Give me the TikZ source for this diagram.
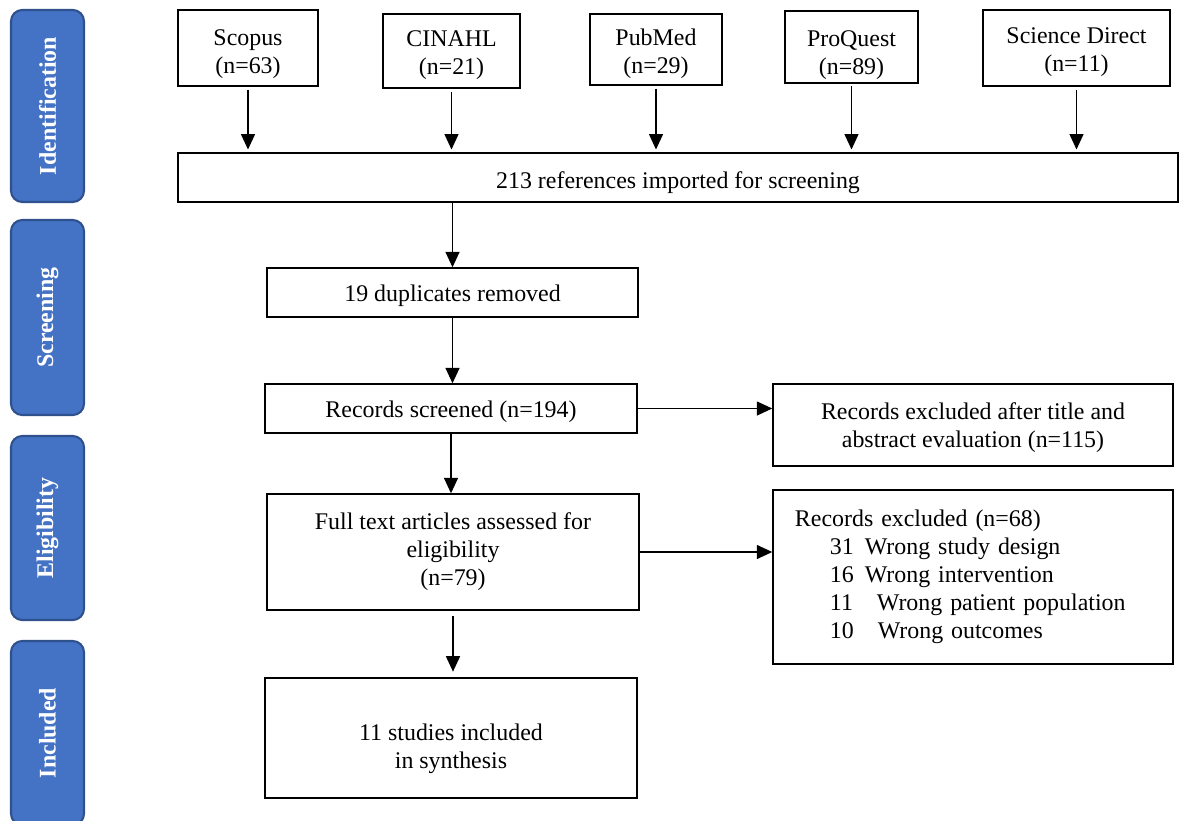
\documentclass[tikz,border=0pt]{standalone}
\usepackage{fontspec}
\setmainfont{Liberation Serif}
\usepackage{tikz}
\usetikzlibrary{arrows.meta, positioning, calc}
\definecolor{barblue}{RGB}{68,114,196}
\definecolor{bardark}{RGB}{47,82,143}
\newcommand{\dropby}[1]{\rule{0pt}{#1}}
\tikzset{
  flowbox/.style={rectangle, draw=black, fill=white, align=center,
    line width=1pt, inner sep=2pt, font=\fontsize{17}{20}\selectfont},
  phase/.style={rectangle, draw=bardark, fill=barblue, rounded corners=8pt,
    line width=1.5pt, rotate=90, minimum height=1.825cm, text=white,
    font=\fontsize{17}{20}\selectfont\bfseries},
  arrow/.style={-{Triangle[length=11pt,width=10pt]}, line width=0.9pt, color=black}
}
\begin{document}
\begin{tikzpicture}[x=0.025cm, y=-0.025cm,
  srcbox/.style={flowbox, minimum height=1.85cm}]

  \useasboundingbox (0,0) rectangle (1179,821);

  % Phase bars
  \node[phase, minimum width=4.8cm] (idph) at (47.5,106) {Identification};
  \node[phase, minimum width=4.875cm] (scph) at (47.5,317.5) {Screening};
  \node[phase, minimum width=4.6cm] (elph) at (47.5,528) {Eligibility};
  \node[phase, minimum width=4.6cm] (inph) at (47.5,733) {Included};

  % Databases
  \node[srcbox, minimum width=3.5cm, minimum height=1.9cm] (scopus) at (248,48) {\dropby{0.72cm}Scopus\\(n=63)};
  \node[srcbox, minimum width=3.425cm] (cinahl) at (451.5,51) {\dropby{0.6cm}CINAHL\\(n=21)};
  \node[srcbox, minimum width=3.3cm, minimum height=1.775cm] (pubmed) at (656,49.5) {\dropby{0.62cm}PubMed\\(n=29)};
  \node[srcbox, minimum width=3.325cm, minimum height=1.65cm] (proquest) at (851.5,47) {\dropby{0.82cm}ProQuest\\(n=89)};
  \node[srcbox, minimum width=4.675cm, minimum height=1.9cm] (scidir) at (1076.5,48) {\dropby{0.6cm}Science Direct\\(n=11)};

  % Flow
  \node[flowbox, minimum width=25cm, minimum height=1.225cm] (refs) at (678,177.5) {\dropby{0.66cm}213 references imported for screening};
  \node[flowbox, minimum width=9.275cm, minimum height=1.225cm] (dup) at (452.5,292.5) {\dropby{0.6cm}19 duplicates removed};
  \node[flowbox, minimum width=9.3cm, minimum height=1.225cm] (screened) at (451,408.5) {\dropby{0.56cm}Records screened (n=194)};
  \node[flowbox, minimum width=9.3cm, minimum height=2.9cm] (full) at (453,552) {Full text articles assessed for\\eligibility\\(n=79)};
  \node[flowbox, minimum width=9.3cm, minimum height=3cm] (incl) at (451,738) {\dropby{0.95cm}11 studies included\\in synthesis};

  % Exclusions
  \node[flowbox, minimum width=10cm, minimum height=2.05cm] (excla) at (973,425) {\dropby{0.56cm}Records excluded after title and\\abstract evaluation (n=115)};
  \node[flowbox, minimum width=10cm, minimum height=4.35cm, text width=8.9cm, align=left] (exclb) at (973,577)
    {Records excluded (n=68)\\
     \hspace*{0.875cm}31\hspace{7.8pt}Wrong study design\\
     \hspace*{0.875cm}16\hspace{7.8pt}Wrong intervention\\
     \hspace*{0.875cm}11\hspace{17pt}Wrong patient population\\
     \hspace*{0.875cm}10\hspace{17pt}Wrong outcomes};

  % Connections
  \foreach \s in {scopus,cinahl,pubmed,proquest,scidir}
    \draw[arrow, shorten <=2pt, shorten >=2pt] (\s.south) -- (\s.south |- refs.north);
  \draw[arrow] (dup.north |- refs.south) -- (dup.north);
  \draw[arrow] (dup.south) -- (dup.south |- screened.north);
  \draw[arrow] (screened.south) -- (screened.south |- full.north);
  \draw[arrow, shorten <=4pt, shorten >=4pt] (full.south) -- (full.south |- incl.north);
  \draw[arrow] (screened.east) -- (screened.east -| excla.west);
  \draw[arrow] (full.east) -- (full.east -| exclb.west);

\end{tikzpicture}
\end{document}
